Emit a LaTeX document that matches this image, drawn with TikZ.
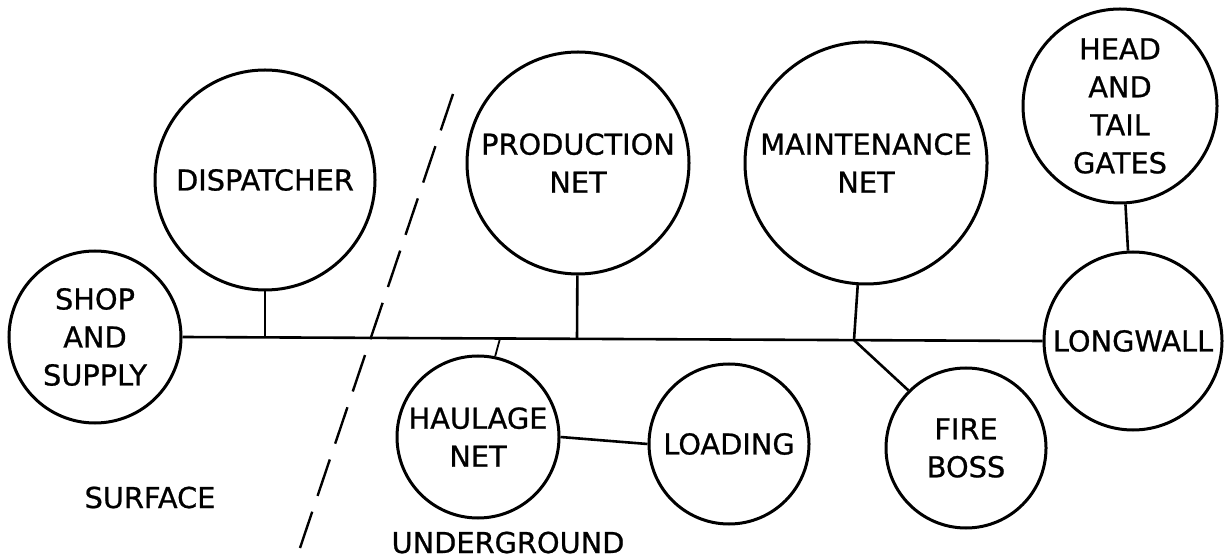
\documentclass[tikz,border=0pt]{standalone}
\usepackage{fontspec}
\setmainfont{DejaVu Sans}
\newfontfamily\lett[FakeBold=0.8]{DejaVu Sans}
\begin{document}
\begin{tikzpicture}[x=0.5pt,y=-0.5pt,
  unit/.style={circle,draw,line width=1.5pt,inner sep=0pt,align=center,
    font=\lett\fontsize{14.4}{19}\selectfont},
  link/.style={line width=1.3pt},
  lbl/.style={font=\lett\fontsize{14.4}{19}\selectfont,inner sep=0pt,anchor=base},
  boundary/.style={line width=1.2pt,dash pattern=on 19.2pt off 8.35pt}]
\useasboundingbox (0,0) rectangle (1224,560);

\node[unit,minimum size=86pt]  (shop)        at (95,337)   {SHOP\\AND\\SUPPLY};
\node[unit,minimum size=110pt] (dispatcher)  at (265,180)  {DISPATCHER};
\node[unit,minimum size=111pt] (production)  at (578,163)  {PRODUCTION\\NET};
\node[unit,minimum size=121pt] (maintenance) at (866,163)  {MAINTENANCE\\NET};
\node[unit,minimum size=97pt]  (head)        at (1120,106) {HEAD\\AND\\TAIL\\GATES};
\node[unit,minimum size=89pt]  (longwall)    at (1133,341) {LONGWALL};
\node[unit,minimum size=81pt]  (haulage)     at (478,437)  {HAULAGE\\NET};
\node[unit,minimum size=80pt]  (loading)     at (729,444)  {LOADING};
\node[unit,minimum size=80pt]  (fireboss)    at (966,448)  {FIRE\\BOSS};

\node[lbl] (surface) at (150,508) {SURFACE};
\node[lbl] (underground) at (508,553) {UNDERGROUND};

\coordinate (jd) at (265,337.4);
\coordinate (jh) at (500,338.5);
\coordinate (jp) at (577,338.8);
\coordinate (jm) at (854,340.1);
\coordinate (d1) at (453,94);
\coordinate (d2) at (300,548);

\draw[link] (shop.east) -- (longwall.west);
\draw[link] (dispatcher.south) -- (jd);
\draw[link] (production) -- (jp);
\draw[link] (maintenance) -- (jm);
\draw[link] (jm) -- (fireboss.135);
\draw[link,line width=0.9pt] (jh) -- (haulage.78);
\draw[link] (haulage.east) -- (loading.west);
\draw[link] (head) -- (longwall);
\draw[boundary] (d1) -- (d2);
\end{tikzpicture}
\end{document}
